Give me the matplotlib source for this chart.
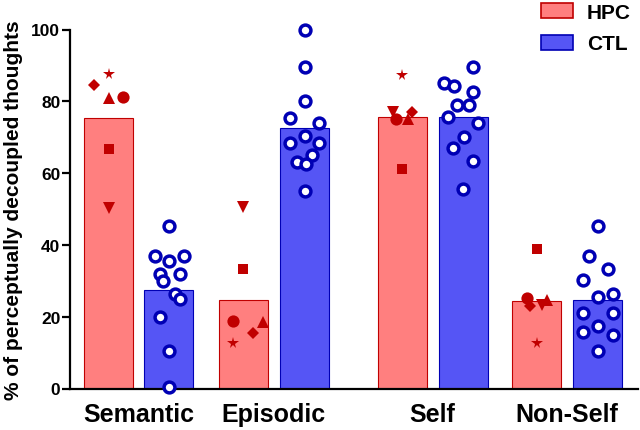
import numpy as np
import matplotlib
matplotlib.use("Agg")
import matplotlib.pyplot as plt
from matplotlib.patches import Patch

plt.rcParams['font.family'] = ['Liberation Sans', 'DejaVu Sans']
plt.rcParams['font.weight'] = 'bold'

categories = ["Semantic", "Episodic", "Self", "Non-Self"]
groups = ["HPC", "CTL"]

# bar heights (group means)
hpc_means = [75.3, 24.7, 75.6, 24.5]
ctl_means = [27.5, 72.7, 75.5, 24.7]

# HPC patients, one marker each: o, s, ^, v, D, *
hpc_markers = ['o', 's', '^', 'v', 'D', '*']
hpc_vals = {
    "Semantic": [81.3, 66.7, 81.0, 50.3, 84.5, 87.6],
    "Episodic": [18.9, 33.3, 18.4, 50.5, 15.4, 12.7],
    "Self":     [75.1, 61.1, 75.0, 77.0, 76.9, 87.4],
    "Non-Self": [25.1, 38.9, 24.7, 23.3, 22.9, 12.7],
}

# controls
ctl_vals = {
    "Semantic": [45.2, 37.0, 37.0, 35.4, 31.9, 31.9, 30.0, 26.3, 24.9, 20.0, 10.5, 0.3],
    "Episodic": [99.9, 89.5, 80.2, 75.3, 74.0, 70.3, 68.4, 68.4, 65.0, 63.2, 62.5, 55.1],
    "Self":     [89.5, 85.0, 84.2, 82.5, 79.1, 79.1, 75.5, 73.9, 70.0, 66.9, 63.5, 55.6],
    "Non-Self": [45.2, 36.8, 33.3, 30.3, 26.3, 25.4, 21.0, 21.0, 17.5, 15.8, 14.9, 10.5],
}

# layout: bar centres and horizontal scatter of the dots (axis units ~ pixels)
hpc_x = [108.5, 243, 402, 536.5]
ctl_x = [168.5, 304.5, 463, 597.5]
bar_w = 49
hpc_jit = {
    "Semantic": [14.5, 0, 0, 0, -14.5, 0],
    "Episodic": [-10, 0, 19.7, 0, 10, -10],
    "Self":     [-6, 0, 6, -9, 10, 0],
    "Non-Self": [-10, 0, 10, 5, -6.5, 0],
}
ctl_jit = {
    "Semantic": [0, -14, 15, 0, -8.5, 11, -6, 6.5, 11, -9, 0, 0],
    "Episodic": [0, 0, 0, -15, 14, 0, -15, 14, 7, -8, 1, 0],
    "Self":     [10, -19, -9, 10, -6, 6, -15, 15, 1, -10, 10, 0],
    "Non-Self": [0, -9, 10, -15, 15, 0, -15, 15, 0, -15, 15, 0],
}
hpc_ms = {'o': 8.8, 's': 7.4, '^': 8.2, 'v': 8.2, 'D': 5.8, '*': 8.5}

red_fill = "#FF7F7F"
red_dark = "#C00000"
blue_fill = "#5555F5"
blue_dark = "#0000B4"

fig = plt.figure(figsize=(6.4, 4.31), dpi=100)
ax = fig.add_axes([70/640, 1 - 389.5/431, 568/640, 359/431])

ax.bar(hpc_x, hpc_means, width=bar_w, color=red_fill, edgecolor=red_dark, linewidth=0.8, zorder=1)
ax.bar(ctl_x, ctl_means, width=bar_w, color=blue_fill, edgecolor=blue_dark, linewidth=0.8, zorder=1)

for i, cat in enumerate(categories):
    for m, v, dx in zip(hpc_markers, hpc_vals[cat], hpc_jit[cat]):
        ax.plot(hpc_x[i] + dx, v, marker=m, ms=hpc_ms[m], color=red_dark,
                markeredgewidth=0, linestyle='none', zorder=3, clip_on=False)
    xs = ctl_x[i] + np.array(ctl_jit[cat])
    ax.plot(xs, ctl_vals[cat], 'o', ms=7.8, mfc='white', mec=blue_dark,
            mew=2.5, linestyle='none', zorder=3, clip_on=False)

ax.set_xlim(70, 638)
ax.set_ylim(0, 100)
ax.set_yticks([0, 20, 40, 60, 80, 100])
ax.set_xticks([(a + b) / 2 for a, b in zip(hpc_x, ctl_x)])
ax.set_xticklabels(categories, fontsize=18, fontweight='bold')
ax.tick_params(axis='x', length=0, pad=10)
ax.tick_params(axis='y', length=6, width=1.6, pad=1, labelsize=12.5)
for lab in ax.get_yticklabels():
    lab.set_fontweight('bold')
ax.spines['top'].set_visible(False)
ax.spines['right'].set_visible(False)
ax.spines['left'].set_linewidth(1.6)
ax.spines['bottom'].set_linewidth(1.6)
ax.set_ylabel("% of perceptually decoupled thoughts", fontsize=15, fontweight='bold', labelpad=6)

handles = [Patch(facecolor=red_fill, edgecolor=red_dark, linewidth=1.2, label="HPC"),
           Patch(facecolor=blue_fill, edgecolor=blue_dark, linewidth=1.2, label="CTL")]
leg = ax.legend(handles=handles, loc='upper left', bbox_to_anchor=(541/640, 1 - 4/431),
                bbox_transform=fig.transFigure, frameon=False, fontsize=15,
                handlelength=1.55, handleheight=0.75, handletextpad=0.65,
                labelspacing=0.6, borderpad=0.0, borderaxespad=0)
for t in leg.get_texts():
    t.set_fontweight('bold')

fig.savefig("out.png", dpi=100)
